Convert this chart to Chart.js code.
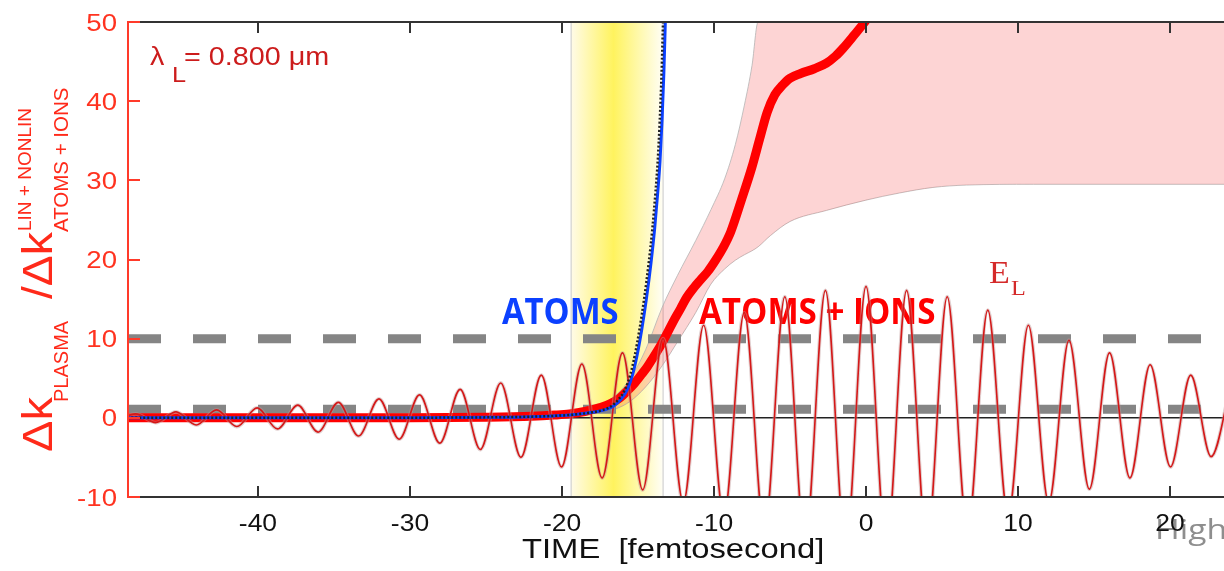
<!DOCTYPE html>
<html>
<head>
<meta charset="utf-8">
<script src="https://cdn.jsdelivr.net/npm/chart.js@4.4.1/dist/chart.umd.min.js"></script>
<style>
  html, body { margin: 0; padding: 0; background: #fff; }
  canvas { display: block; }
</style>
</head>
<body>
<canvas id="chart" width="1224" height="571"></canvas>
<script>
// time axis (fs) and plasma ratio axis
const timeRange = [-48.55, 23.55];
const ratioRange = [-10, 50];
const xTicks = [-40, -30, -20, -10, 0, 10, 20];
const yTicks = [-10, 0, 10, 20, 30, 40, 50];

// laser field E_L : carrier extrema (peaks / troughs)
const fieldTimes = [-49.40, -48.06, -46.73, -45.39, -44.06, -42.72, -41.39, -40.05, -38.72, -37.38,
  -36.05, -34.71, -33.38, -32.04, -30.71, -29.37, -28.04, -26.70, -25.37, -24.03,
  -22.70, -21.36, -20.03, -18.69, -17.36, -16.02, -14.69, -13.35, -12.02, -10.68,
  -9.35, -8.01, -6.68, -5.34, -4.01, -2.67, -1.34, 0, 1.34, 2.67,
  4.01, 5.34, 6.68, 8.01, 9.35, 10.68, 12.02, 13.35, 14.69, 16.02,
  17.36, 18.69, 20.03, 21.36, 22.70, 24.03];
const fieldValues = [-0.4, 0.5, -0.6, 0.75, -0.9, 1.0, -1.1, 1.26, -1.4, 1.6,
  -1.8, 1.95, -2.3, 2.4, -2.7, 2.9, -3.2, 3.6, -4.0, 4.4,
  -5.0, 5.4, -6.2, 6.8, -7.6, 8.2, -9.1, 10.0, -10.7, 11.7,
  -12.4, 13.3, -14.3, 15.3, -15.8, 16.1, -16.4, 16.6, -16.4, 16.1,
  -15.8, 15.3, -14.3, 13.6, -12.4, 11.7, -10.7, 9.8, -9.0, 8.2,
  -7.6, 6.7, -6.2, 5.4, -4.9, 4.4];

// ATOMS + IONS
const ionsTimes = [-48.6, -30, -25, -22, -20.5, -19.5, -18.5, -17.5, -16.8, -16.2,
  -15.7, -15.3, -14.8, -14.4, -14.0, -13.55, -13.1, -12.7, -12.2, -11.8,
  -11.3, -10.9, -10.4, -9.9, -9.4, -8.9, -8.2, -7.5, -7.0, -6.5,
  -6.0, -5.5, -5.0, -4.3, -3.4, -2.6, -2.0, -1.5, -0.8, 0];
const ionsValues = [0, 0.02, 0.08, 0.2, 0.35, 0.5, 0.8, 1.3, 1.8, 2.5,
  3.4, 4.2, 5.4, 6.4, 7.6, 9.0, 10.6, 12.1, 13.8, 15.2,
  16.5, 17.4, 18.5, 19.9, 21.5, 23.5, 27.5, 31.7, 35.2, 38.6,
  40.8, 42.0, 42.9, 43.5, 44.1, 44.8, 45.7, 46.7, 48.3, 50.2];

// spread of ATOMS + IONS
const ribbonTimes = [-22, -19, -17.5, -16.5, -15.5, -14.5, -13.4, -12.4, -11.2, -10.2,
  -9.3, -8.6, -8.0, -7.5, -7.1, -6.3, -5.0, -2.6, 0, 2.2,
  4.4, 6.6, 11, 24];
const ribbonUpper = [0.25, 0.75, 1.7, 2.8, 5.0, 8.6, 14.0, 18.0, 22.4, 26.3,
  30.2, 34.5, 39.5, 44.5, 50, 50, 50, 50, 50, 50,
  50, 50, 50, 50];
const ribbonLower = [0.1, 0.3, 0.7, 1.1, 2.1, 3.9, 6.6, 9.6, 13.3, 16.9,
  18.8, 19.9, 20.6, 21.1, 21.6, 23.0, 24.8, 26.2, 27.5, 28.4,
  29.1, 29.4, 29.5, 29.5];

// ATOMS only (blue) and neutral reference (dotted)
const atomsTimes = [-48.6, -30, -25, -22, -20, -19, -18, -17.2, -16.6, -16.1,
  -15.7, -15.35, -15.05, -14.75, -14.45, -14.15, -13.9, -13.7, -13.55, -13.42,
  -13.3, -13.2];
const atomsValues = [0, 0.02, 0.06, 0.15, 0.3, 0.45, 0.7, 1.0, 1.5, 2.4,
  3.6, 5.5, 8.0, 11.2, 15.0, 19.5, 24.0, 28.5, 32.5, 37.5,
  43.5, 50.2];
const neutralTimes = [-48.6, -30, -25, -22, -20, -19, -18, -17.3, -16.75, -16.25,
  -15.85, -15.5, -15.2, -14.9, -14.6, -14.3, -14.05, -13.85, -13.7, -13.57,
  -13.45, -13.35];
const neutralValues = [0, 0.02, 0.06, 0.15, 0.3, 0.45, 0.7, 1.0, 1.5, 2.4,
  3.6, 5.5, 8.0, 11.2, 15.0, 19.5, 24.0, 28.5, 32.5, 37.5,
  43.5, 50.2];

// reference levels and the highlighted time window
const dashLevels = [10, 1.1];
const zeroLevel = 0;
const bandStart = -19.4;
const bandEnd = -13.35;

const pts = (xs, ys) => xs.map((x, i) => ({ x: x, y: ys[i] }));
const flat = (v) => [{ x: timeRange[0], y: v }, { x: timeRange[1], y: v }];

// text helper with horizontal scaling
function label(ctx, text, x, y, font, color, align, sx) {
  ctx.save();
  ctx.translate(x, y);
  ctx.scale(sx || 1, 1);
  ctx.font = font;
  ctx.fillStyle = color;
  ctx.textAlign = align || 'left';
  ctx.textBaseline = 'alphabetic';
  ctx.fillText(text, 0, 0);
  ctx.restore();
}

const decorPlugin = {
  id: 'decor',
  beforeDraw(chart) {
    const ctx = chart.ctx;
    label(ctx, 'High', 1155, 539, '28px "Open Sans"', '#8e8e8e', 'left', 1.2);
  },
  beforeDatasetsDraw(chart) {
    const { ctx, chartArea: a, scales: { x } } = chart;
    const x0 = x.getPixelForValue(bandStart);
    const x1 = x.getPixelForValue(bandEnd);
    const g = ctx.createLinearGradient(x0, 0, x1, 0);
    g.addColorStop(0, '#fffbe8');
    g.addColorStop(0.46, '#fff35e');
    g.addColorStop(1, '#fffef6');
    ctx.save();
    ctx.fillStyle = g;
    ctx.fillRect(x0, a.top, x1 - x0, a.bottom - a.top);
    ctx.strokeStyle = '#c8c8c8';
    ctx.lineWidth = 1;
    ctx.beginPath();
    ctx.moveTo(x0, a.top); ctx.lineTo(x0, a.bottom);
    ctx.moveTo(x1, a.top); ctx.lineTo(x1, a.bottom);
    ctx.stroke();
    ctx.restore();

    label(ctx, 'λ', 150, 65, '25px "Liberation Sans"', '#cc1c1c', 'left', 1.15);
    label(ctx, 'L', 172, 82, '22px "Liberation Sans"', '#cc1c1c', 'left', 1.15);
    label(ctx, '= 0.800 μm', 184, 65, '25px "Liberation Sans"', '#cc1c1c', 'left', 1.15);
    label(ctx, 'ATOMS', 502, 324, 'bold 36px "Open Sans"', '#0b40ff', 'left', 0.91);
    label(ctx, 'ATOMS + IONS', 699, 324, 'bold 36px "Open Sans"', '#ff0000', 'left', 0.92);
    label(ctx, 'E', 989, 283, '31px "Liberation Serif"', '#d42a2a', 'left', 1.1);
    label(ctx, 'L', 1011, 295, '22px "Liberation Serif"', '#d42a2a', 'left', 1.1);
  },
  afterDraw(chart) {
    const { ctx, chartArea: a, scales: { x, y } } = chart;
    ctx.save();
    // frame top / bottom with inward ticks
    ctx.strokeStyle = '#333';
    ctx.lineWidth = 2;
    ctx.beginPath();
    ctx.moveTo(a.left, a.top); ctx.lineTo(a.right, a.top);
    ctx.moveTo(a.left, a.bottom); ctx.lineTo(a.right, a.bottom);
    xTicks.forEach((t) => {
      const px = Math.round(x.getPixelForValue(t));
      ctx.moveTo(px, a.top); ctx.lineTo(px, a.top + 11);
      ctx.moveTo(px, a.bottom); ctx.lineTo(px, a.bottom - 11);
    });
    ctx.stroke();
    // red left axis
    ctx.strokeStyle = '#ff3a2a';
    ctx.beginPath();
    ctx.moveTo(a.left, a.top - 1); ctx.lineTo(a.left, a.bottom + 1);
    yTicks.forEach((v) => {
      const py = Math.round(y.getPixelForValue(v));
      ctx.moveTo(a.left, py); ctx.lineTo(a.left + 12, py);
    });
    ctx.stroke();
    ctx.restore();

    xTicks.forEach((t) => {
      label(ctx, String(t), x.getPixelForValue(t), 531, '23px "Liberation Sans"', '#111', 'center', 1.15);
    });
    yTicks.forEach((v) => {
      label(ctx, String(v), 117, y.getPixelForValue(v) + 8.5, '24px "Liberation Sans"', '#ff3320', 'right', 1.15);
    });
    label(ctx, 'TIME  [femtosecond]', 522, 558, '28px "Liberation Sans"', '#111', 'left', 1.17);

    // rotated y title
    ctx.save();
    ctx.rotate(-Math.PI / 2);
    ctx.fillStyle = '#ff2a1a';
    ctx.textAlign = 'left';
    ctx.textBaseline = 'alphabetic';
    const part = (text, u, w, size, su) => {
      ctx.save();
      ctx.translate(u, w);
      ctx.scale(su, 1);
      ctx.font = size + 'px "Liberation Sans"';
      ctx.fillText(text, 0, 0);
      ctx.restore();
    };
    part('Δk', -452, 52, 42, 1.12);
    part('PLASMA', -402, 68, 20, 1);
    part('/Δk', -299, 52, 42, 1.1);
    part('LIN + NONLIN', -231, 31, 19, 1);
    part('ATOMS + IONS', -232, 68, 20.5, 1);
    ctx.restore();
  }
};

const ctx = document.getElementById('chart').getContext('2d');
new Chart(ctx, {
  type: 'line',
  data: {
    datasets: [
      { label: 'neutral', data: pts(neutralTimes, neutralValues), borderColor: '#222', borderWidth: 2.5,
        borderDash: [2, 2], cubicInterpolationMode: 'monotone', order: 1 },
      { label: 'ATOMS', data: pts(atomsTimes, atomsValues), borderColor: '#0b40ff', borderWidth: 3,
        cubicInterpolationMode: 'monotone', order: 2 },
      { label: 'E_L', data: pts(fieldTimes, fieldValues), borderColor: '#d41818', borderWidth: 1.6,
        cubicInterpolationMode: 'monotone', order: 3 },
      { label: 'E_L halo', data: pts(fieldTimes, fieldValues), borderColor: 'rgba(190,150,150,0.45)', borderWidth: 3.8,
        cubicInterpolationMode: 'monotone', order: 4 },
      { label: 'ATOMS + IONS', data: pts(ionsTimes, ionsValues), borderColor: '#ff0000', borderWidth: 9,
        cubicInterpolationMode: 'monotone', order: 5 },
      { label: 'zero', data: flat(zeroLevel), borderColor: '#222', borderWidth: 1.5, order: 6 },
      { label: 'level 10', data: flat(dashLevels[0]), borderColor: '#858585', borderWidth: 9,
        borderDash: [33, 32], order: 7 },
      { label: 'level 1', data: flat(dashLevels[1]), borderColor: '#858585', borderWidth: 9,
        borderDash: [33, 32], order: 8 },
      { label: 'spread upper', data: pts(ribbonTimes, ribbonUpper), borderColor: '#b4b4b4', borderWidth: 0.8,
        backgroundColor: 'rgba(245,60,60,0.22)', fill: '+1', cubicInterpolationMode: 'monotone', order: 9 },
      { label: 'spread lower', data: pts(ribbonTimes, ribbonLower), borderColor: '#b4b4b4', borderWidth: 0.8,
        cubicInterpolationMode: 'monotone', order: 10 }
    ]
  },
  options: {
    responsive: false,
    devicePixelRatio: 1,
    animation: false,
    layout: { padding: { top: 22, right: 0, bottom: 0, left: 0 } },
    elements: { point: { radius: 0 } },
    plugins: { legend: { display: false }, tooltip: { enabled: false } },
    scales: {
      x: {
        type: 'linear', min: timeRange[0], max: timeRange[1],
        ticks: { display: false }, grid: { display: false }, border: { display: false },
        afterFit: (s) => { s.height = 74; }
      },
      y: {
        min: ratioRange[0], max: ratioRange[1],
        ticks: { display: false }, grid: { display: false }, border: { display: false },
        afterFit: (s) => { s.width = 128; }
      }
    }
  },
  plugins: [decorPlugin]
});
</script>
</body>
</html>
